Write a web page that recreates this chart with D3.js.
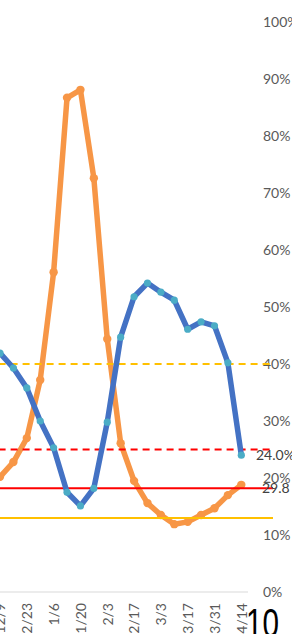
<!DOCTYPE html>
<html>
<head>
<meta charset="utf-8">
<script src="https://cdn.jsdelivr.net/npm/d3@7"></script>
<style>
  html, body { margin: 0; padding: 0; background: #fff; overflow: hidden; }
  svg { display: block; font-family: Lato, "Open Sans", sans-serif; }
</style>
</head>
<body>
<div id="chart"></div>
<script>
  // weekly dates (12/2 sits just left of the visible area)
  var dates = ['12/2', '12/9', '12/16', '12/23', '12/30', '1/6', '1/13', '1/20', '1/27', '2/3',
      '2/10', '2/17', '2/24', '3/3', '3/10', '3/17', '3/24', '3/31', '4/7', '4/14'];

  // labels shown on the x axis (every two weeks)
  var tickDates = ['12/9', '12/23', '1/6', '1/20', '2/3', '2/17', '3/3', '3/17', '3/31', '4/14'];

  // blue series (%)
  var blueValues = [43.5, 41.9, 39.3, 35.8, 30.0, 25.3, 17.5, 15.1, 18.2, 29.8,
      44.7, 51.8, 54.2, 52.6, 51.2, 46.1, 47.4, 46.7, 40.2, 24.0];

  // orange series (%)
  var orangeValues = [18.0, 20.2, 22.8, 27.0, 37.2, 56.1, 86.7, 88.1, 72.6, 44.4,
      26.1, 19.5, 15.6, 13.5, 11.9, 12.3, 13.5, 14.7, 17.0, 18.8];

  // horizontal reference lines (%)
  var refValues = [40, 25, 18.2, 13];
  var refColors = ['#ffc000', '#ff0000', '#ff0000', '#ffc000'];
  var refDashed = [true, true, false, false];

  var yTicks = [0, 10, 20, 30, 40, 50, 60, 70, 80, 90, 100];

  var width = 292;
  var height = 634;

  var svg = d3.select('#chart')
      .append('svg')
      .attr('width', width)
      .attr('height', height);

  var x = d3.scalePoint()
      .domain(dates)
      .range([-13.4, 241.3]);

  var y = d3.scaleLinear()
      .domain([0, 100])
      .range([592, 22]);

  // 0% gridline
  svg.append('line')
      .attr('x1', 0)
      .attr('x2', 248)
      .attr('y1', y(0))
      .attr('y2', y(0))
      .attr('stroke', '#d9d9d9')
      .attr('stroke-width', 1);

  // y axis labels on the right
  var yAxis = svg.append('g')
      .attr('transform', 'translate(263,0)')
      .call(d3.axisRight(y).tickValues(yTicks).tickSize(0).tickPadding(0)
          .tickFormat(function(d) { return d + '%'; }));
  yAxis.select('.domain').remove();
  yAxis.selectAll('text')
      .attr('fill', '#595959')
      .style('font-size', '14px')
      .style('font-family', 'Lato, sans-serif');

  // x axis labels, rotated
  var xAxis = svg.append('g')
      .attr('transform', 'translate(0,' + 598 + ')')
      .call(d3.axisBottom(x).tickValues(tickDates).tickSize(0).tickPadding(0));
  xAxis.select('.domain').remove();
  xAxis.selectAll('text')
      .attr('fill', '#595959')
      .style('font-size', '14px')
      .style('font-family', 'Lato, sans-serif')
      .attr('text-anchor', 'end')
      .attr('transform', 'rotate(-90)')
      .attr('x', -5)
      .attr('y', 0)
      .attr('dy', '0.35em');

  var line = d3.line()
      .x(function(d, i) { return x(dates[i]); })
      .y(function(d) { return y(d); });

  // orange series
  svg.append('path')
      .datum(orangeValues)
      .attr('fill', 'none')
      .attr('stroke', '#f79646')
      .attr('stroke-width', 5.5)
      .attr('stroke-linejoin', 'round')
      .attr('d', line);

  svg.selectAll('.dot-orange')
      .data(orangeValues)
      .enter().append('circle')
      .attr('class', 'dot-orange')
      .attr('cx', function(d, i) { return x(dates[i]); })
      .attr('cy', function(d) { return y(d); })
      .attr('r', 4.2)
      .attr('fill', '#f79646');

  // reference lines
  svg.selectAll('.ref')
      .data(refValues)
      .enter().append('line')
      .attr('class', 'ref')
      .attr('x1', x(dates[0]))
      .attr('x2', 273)
      .attr('y1', function(d) { return y(d); })
      .attr('y2', function(d) { return y(d); })
      .attr('stroke', function(d, i) { return refColors[i]; })
      .attr('stroke-width', 2)
      .attr('stroke-dasharray', function(d, i) { return refDashed[i] ? '7,5' : null; });

  // blue series
  svg.append('path')
      .datum(blueValues)
      .attr('fill', 'none')
      .attr('stroke', '#4472c4')
      .attr('stroke-width', 5.5)
      .attr('stroke-linejoin', 'round')
      .attr('d', line);

  svg.selectAll('.dot-blue')
      .data(blueValues)
      .enter().append('circle')
      .attr('class', 'dot-blue')
      .attr('cx', function(d, i) { return x(dates[i]); })
      .attr('cy', function(d) { return y(d); })
      .attr('r', 3.6)
      .attr('fill', '#4bacc6');

  // data labels
  svg.append('text')
      .attr('x', 256)
      .attr('y', y(blueValues[blueValues.length - 1]) + 5)
      .attr('fill', '#404040')
      .style('font-size', '14px')
      .text('24.0%');

  svg.append('text')
      .attr('x', 262)
      .attr('y', y(refValues[2]) + 5)
      .attr('fill', '#404040')
      .style('font-size', '14px')
      .text('29.8');

  svg.append('text')
      .attr('x', 246)
      .attr('y', 637)
      .attr('fill', '#000')
      .attr('textLength', 33)
      .attr('lengthAdjust', 'spacingAndGlyphs')
      .style('font-size', '40px')
      .style('font-family', '"Liberation Sans", sans-serif')
      .text('10');
</script>
</body>
</html>
